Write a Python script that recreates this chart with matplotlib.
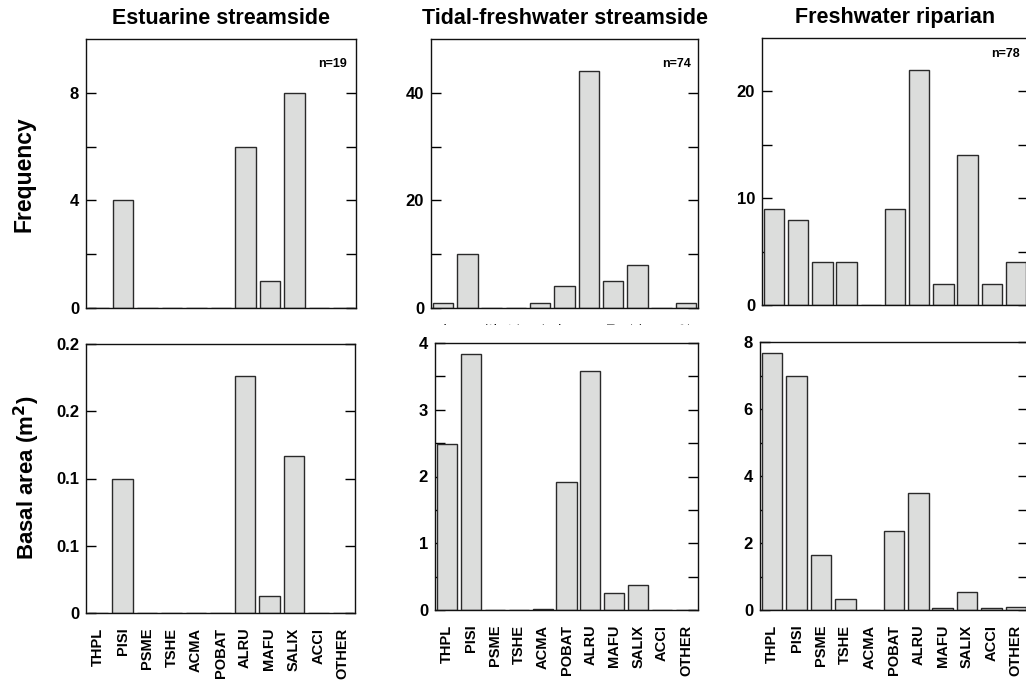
import matplotlib
matplotlib.use("Agg")
import matplotlib.pyplot as plt
from matplotlib.patches import Rectangle

plt.rcParams['font.family'] = ['Liberation Sans', 'DejaVu Sans']
plt.rcParams['font.weight'] = 'bold'

species = ['THPL', 'PISI', 'PSME', 'TSHE', 'ACMA', 'POBAT',
           'ALRU', 'MAFU', 'SALIX', 'ACCI', 'OTHER']

titles = ['Estuarine streamside', 'Tidal-freshwater streamside', 'Freshwater riparian']
n_labels = ['n=19', 'n=74', 'n=78']

# stem counts per species
freq_estuarine = [0, 4, 0, 0, 0, 0, 6, 1, 8, 0, 0]
freq_tidal = [1, 10, 0, 0, 1, 4, 44, 5, 8, 0, 1]
freq_fresh = [9, 8, 4, 4, 0, 9, 22, 2, 14, 2, 4]

# basal area per species (m2)
basal_estuarine = [0, 0.100, 0, 0, 0, 0, 0.176, 0.013, 0.117, 0, 0]
basal_tidal = [2.48, 3.83, 0, 0, 0.02, 1.92, 3.58, 0.26, 0.37, 0, 0.005]
basal_fresh = [7.66, 6.98, 1.65, 0.32, 0, 2.37, 3.49, 0.06, 0.54, 0.06, 0.10]

basal_est_ticks = [0, 0.05, 0.1, 0.15, 0.2]
basal_est_ticklabels = ['0', '0.1', '0.1', '0.2', '0.2']

W, H = 1026, 681
fig = plt.figure(figsize=(W / 100, H / 100), dpi=100)


def add_ax(left, top, right, bottom, z):
    return fig.add_axes([left / W, 1 - bottom / H, (right - left) / W, (bottom - top) / H], zorder=z)


def style(ax, ylim, major, minor=None):
    x = range(len(species))
    ax.set_xlim(-0.5, len(species) - 0.5)
    ax.set_ylim(*ylim)
    ax.set_xticks(list(x))
    ax.set_yticks(major)
    if minor is not None:
        ax.set_yticks(minor, minor=True)
    ax.tick_params(axis='y', which='both', direction='in', left=True, right=True,
                   length=7, width=1, labelsize=12, pad=5)
    ax.tick_params(axis='x', length=0)
    for s in ax.spines.values():
        s.set_linewidth(1.0)
        s.set_color('#111111')


def bars(ax, vals):
    ax.bar(range(len(species)), vals, width=0.84, color='#dcdddc',
           edgecolor='#2a2a2a', linewidth=1.0, zorder=2)


# top row: frequency
ax1 = add_ax(86, 39, 356, 308, 0)
ax2 = add_ax(431, 39, 698, 308, 0)
ax3 = add_ax(762, 38, 1028, 305, 0)
# bottom row: basal area
ax4 = add_ax(86, 344, 355, 613, 2)
ax5 = add_ax(435, 343, 698, 610, 2)
ax6 = add_ax(760, 342, 1028, 610, 2)

bars(ax1, freq_estuarine)
bars(ax2, freq_tidal)
bars(ax3, freq_fresh)
bars(ax4, basal_estuarine)
bars(ax5, basal_tidal)
bars(ax6, basal_fresh)

style(ax1, (0, 10), [0, 4, 8], [2, 6])
style(ax2, (0, 50), [0, 20, 40], [10, 30])
style(ax3, (0, 25), [0, 10, 20], [5, 15])
style(ax4, (0, 0.2), basal_est_ticks)
ax4.set_yticklabels(basal_est_ticklabels)
style(ax5, (0, 4), [0, 1, 2, 3, 4], [0.5, 1.5, 2.5, 3.5])
style(ax6, (0, 8), [0, 2, 4, 6, 8], [1, 3, 5, 7])

for ax in (ax1, ax3):
    ax.set_xticklabels([])
ax2.set_xticklabels(species, rotation=90, fontsize=10.5)
ax2.tick_params(axis='x', pad=10.0)
for ax in (ax4, ax5, ax6):
    ax.set_xticklabels(species, rotation=90, fontsize=10.5)
    ax.tick_params(axis='x', pad=10.5)

# white band hiding the upper row's species labels
fig.add_artist(Rectangle((0, 1 - 390 / H), 1, (390 - 324.5) / H,
                         transform=fig.transFigure, facecolor='white',
                         edgecolor='none', zorder=1))

for ax, t in zip((ax1, ax2, ax3), titles):
    ax.set_title(t, fontsize=15.5, fontweight='bold', pad=11)

ax1.text(0.967, 0.908, n_labels[0], transform=ax1.transAxes, ha='right', va='center', fontsize=9)
ax2.text(0.973, 0.908, n_labels[1], transform=ax2.transAxes, ha='right', va='center', fontsize=9)
ax3.text(0.970, 0.940, n_labels[2], transform=ax3.transAxes, ha='right', va='center', fontsize=9)

fig.text(24 / W, 1 - 174 / H, 'Frequency', rotation=90, ha='center', va='center',
         fontsize=16.5, fontweight='bold')
fig.text(27 / W, 1 - 478 / H, 'Basal area (m$^\\mathbf{2}$)', rotation=90, ha='center',
         va='center', fontsize=16, fontweight='bold')

fig.savefig('out.png', dpi=100)
